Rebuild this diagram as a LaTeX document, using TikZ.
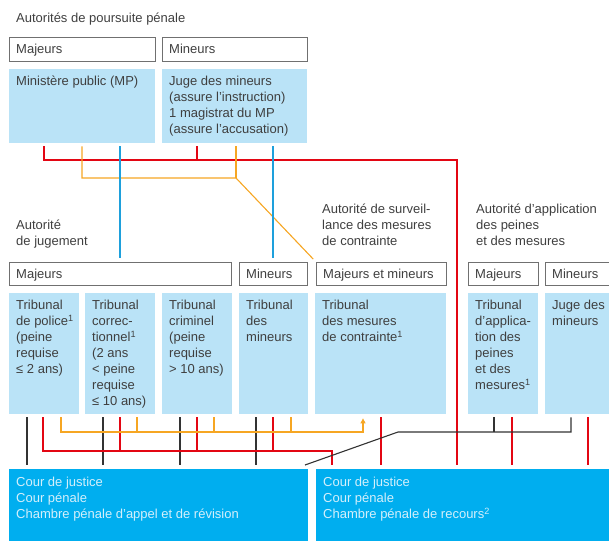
\documentclass[tikz,border=0pt]{standalone}
\usepackage{fontspec}
\setmainfont{Liberation Sans}
\usepackage{xcolor}
\usetikzlibrary{arrows.meta}
\definecolor{txtgray}{HTML}{3F3F3F}
\definecolor{framegray}{HTML}{707070}
\definecolor{paleblue}{HTML}{BAE3F7}
\definecolor{deepblue}{HTML}{00AEEF}
\definecolor{courtext}{HTML}{D4EFFB}
\definecolor{linered}{HTML}{E30613}
\definecolor{lineorange}{HTML}{F6A623}
\definecolor{lineblue}{HTML}{1EA0DC}
\definecolor{lineblack}{HTML}{333333}

\begin{document}
\begin{tikzpicture}[x=1pt, y=-1pt, font=\fontsize{13}{16}\selectfont, text=txtgray,
    txt/.style={anchor=north west, inner xsep=7pt, inner ysep=7pt, align=left},
    hbox/.style={draw=framegray, line width=0.8pt, anchor=north west, inner sep=0pt, minimum height=#1},
    pbox/.style={fill=paleblue, anchor=north west, inner sep=0pt},
    cbox/.style={fill=deepblue, anchor=north west, inner sep=0pt, minimum height=80},
    lnk/.style={line width=1.1pt, shorten <=3pt},
    cred/.style={lnk, draw=linered},
    corg/.style={lnk, draw=lineorange},
    cblu/.style={lnk, draw=lineblue},
    cblk/.style={lnk, draw=lineblack}]
  \clip (0,0) rectangle (609,540);

  % poursuite penale
  \node[txt] (tpours) at (9,6) {Autorités de poursuite pénale};
  \node[hbox=24, minimum width=146, label={[txt]north west:Majeurs}] (maj1) at (9,37) {};
  \node[hbox=24, minimum width=145, label={[txt]north west:Mineurs}] (min1) at (162,37) {};
  \node[pbox, minimum width=146, minimum height=74, label={[txt]north west:Ministère public (MP)}] (mp) at (9,69) {};
  \node[pbox, minimum width=145, minimum height=74,
    label={[txt]north west:{Juge des mineurs\\(assure l’instruction)\\1 magistrat du MP\\(assure l’accusation)}}] (jm) at (162,69) {};

  % titres du second niveau
  \node[txt] (hjug) at (9,213) {Autorité\\de jugement};
  \node[txt] (hsurv) at (315,197) {Autorité de surveil-\\lance des mesures\\de contrainte};
  \node[txt] (happ) at (469,197) {Autorité d’application\\des peines\\et des mesures};

  \node[hbox=23, minimum width=222, label={[txt]north west:Majeurs}] (majj) at (9,262) {};
  \node[hbox=23, minimum width=68, label={[txt]north west:Mineurs}] (minj) at (239,262) {};
  \node[hbox=23, minimum width=130, label={[txt]north west:Majeurs et mineurs}] (mm) at (316,262) {};
  \node[hbox=23, minimum width=70, label={[txt]north west:Majeurs}] (majap) at (468,262) {};
  \node[hbox=23, minimum width=70, label={[txt]north west:Mineurs}] (minap) at (545,262) {};

  % tribunaux
  \node[pbox, minimum width=70, minimum height=121,
    label={[txt]north west:{Tribunal\\de police\textsuperscript{1}\\(peine\\requise\\≤ 2 ans)}}] (pol) at (9,293) {};
  \node[pbox, minimum width=70, minimum height=121,
    label={[txt]north west:{Tribunal\\correc-\\tionnel\textsuperscript{1}\\(2 ans\\< peine\\requise\\≤ 10 ans)}}] (corr) at (85,293) {};
  \node[pbox, minimum width=70, minimum height=121,
    label={[txt]north west:{Tribunal\\criminel\\(peine\\requise\\> 10 ans)}}] (crim) at (162,293) {};
  \node[pbox, minimum width=69, minimum height=121,
    label={[txt]north west:{Tribunal\\des\\mineurs}}] (tmin) at (239,293) {};
  \node[pbox, minimum width=131, minimum height=121,
    label={[txt]north west:{Tribunal\\des mesures\\de contrainte\textsuperscript{1}}}] (tmc) at (315,293) {};
  \node[pbox, minimum width=70, minimum height=121,
    label={[txt]north west:{Tribunal\\d’applica-\\tion des\\peines\\et des\\mesures\textsuperscript{1}}}] (tap) at (468,293) {};
  \node[pbox, minimum width=70, minimum height=121,
    label={[txt]north west:{Juge des\\mineurs}}] (jmin) at (545,293) {};

  % recours
  \node[cbox, minimum width=299,
    label={[txt, inner ysep=8pt, text=courtext]north west:{Cour de justice\\Cour pénale\\Chambre pénale d’appel et de révision}}] (cour1) at (9,469) {};
  \node[cbox, minimum width=300,
    label={[txt, inner ysep=8pt, text=courtext]north west:{Cour de justice\\Cour pénale\\Chambre pénale de recours\textsuperscript{2}}}] (cour2) at (316,469) {};

  \coordinate (rt) at (457,160);
  \coordinate (ot) at (236,178);
  \coordinate (rb) at (332,451);
  \coordinate (ob) at (363,432);
  \coordinate (kb) at (398,432);
  \coordinate (kd) at (305,465);

  % liaisons du haut
  \draw[cred, shorten >=4pt] ([xshift=35pt]mp.south west) |- (rt) -- (rt |- cour2.north);
  \draw[cred] ([xshift=35pt]jm.south west) -- ([xshift=35pt]jm.south west |- rt);
  \draw[corg, shorten >=4pt] ([xshift=73pt]mp.south west) |- (ot) -- (mm.north west);
  \draw[corg] ([xshift=74pt]jm.south west) -- (ot);
  \draw[cblu, shorten >=4pt] ([xshift=111pt]mp.south west) -- ([xshift=111pt]majj.north west);
  \draw[cblu, shorten >=4pt] ([xshift=111pt]jm.south west) -- ([xshift=34pt]minj.north west);

  % liaisons du bas
  \foreach \b/\o in {pol/18, corr/18, crim/18, tmin/17}
    \draw[cblk, shorten >=4pt] ([xshift=\o pt]\b.south west) -- ([xshift=\o pt]\b.south west |- cour1.north);
  \draw[cred, shorten >=4pt] ([xshift=34pt]pol.south west) |- (rb) -- (rb |- cour2.north);
  \foreach \b/\o in {corr/35, crim/35, tmin/34}
    \draw[cred] ([xshift=\o pt]\b.south west) |- (rb);
  \draw[corg, shorten >=4pt, -{Triangle[length=5pt, width=5pt]}] ([xshift=52pt]pol.south west) |- (ob) -- ([xshift=48pt]tmc.south west);
  \foreach \b in {corr, crim, tmin}
    \draw[corg] ([xshift=52pt]\b.south west) |- (ob);
  \foreach \b/\o in {tmc/66, tap/44, jmin/43}
    \draw[cred, shorten >=4pt] ([xshift=\o pt]\b.south west) -- ([xshift=\o pt]\b.south west |- cour2.north);
  \draw[cblk] ([xshift=26pt]jmin.south west) |- (kb) -- (kd);
  \draw[cblk] ([xshift=26pt]tap.south west) -- ([xshift=26pt]tap.south west |- kb);
\end{tikzpicture}
\end{document}
